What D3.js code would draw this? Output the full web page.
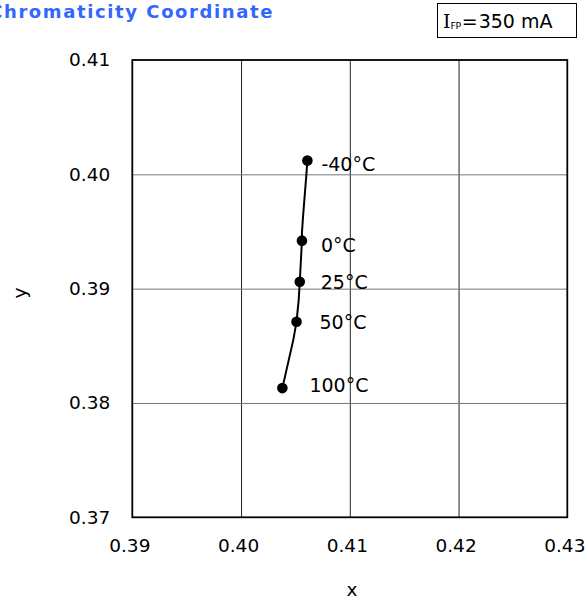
<!DOCTYPE html>
<html><head><meta charset="utf-8">
<script src="https://cdn.jsdelivr.net/npm/d3@7"></script>
<style>body{margin:0;background:#fff;} svg{display:block;}</style>
</head><body>
<svg id="chart" width="587" height="602"></svg>
<script>
// ---- data ----
const tempLabels = ["-40°C", "0°C", "25°C", "50°C", "100°C"];
const pointX = [0.4061, 0.4056, 0.4054, 0.4051, 0.4038];
const pointY = [0.4012, 0.3942, 0.3906, 0.3871, 0.3813];
// traced curve between measured points
const curveX = [0.4061, 0.4060, 0.4057, 0.4056, 0.4056, 0.4055, 0.4054, 0.4053, 0.4051, 0.4048, 0.4038];
const curveY = [0.4012, 0.3999, 0.3963, 0.3949, 0.3942, 0.3924, 0.3906, 0.3890, 0.3871, 0.3855, 0.3813];
const xTicks = [0.39, 0.40, 0.41, 0.42, 0.43];
const yTicks = [0.37, 0.38, 0.39, 0.40, 0.41];
const titleText = "Chromaticity Coordinate";

// ---- layout ----
const L = 132.3, R = 567.3, T = 60, B = 517.3;
const labelDX = [14, 19, 21, 23, 27];
const labelDY = [3, 4, 0, 0, -3];
const font = "'DejaVu Sans', Verdana, sans-serif";

const svg = d3.select("#chart");
const x = d3.scaleLinear().domain([0.39, 0.43]).range([L, R]);
const y = d3.scaleLinear().domain([0.37, 0.41]).range([B, T]);

// gridlines
svg.append("g").attr("transform", `translate(0,${B})`)
  .call(d3.axisBottom(x).tickValues(xTicks.slice(1, -1)).tickSize(-(B - T)).tickFormat(""))
  .call(g => g.select(".domain").remove())
  .call(g => g.selectAll("line").attr("stroke", "#222").attr("stroke-width", 1));
svg.append("g").attr("transform", `translate(${L},0)`)
  .call(d3.axisLeft(y).tickValues(yTicks.slice(1, -1)).tickSize(-(R - L)).tickFormat(""))
  .call(g => g.select(".domain").remove())
  .call(g => g.selectAll("line").attr("stroke", "#777").attr("stroke-width", 1));

// frame
svg.append("rect").attr("x", L).attr("y", T).attr("width", R - L).attr("height", B - T)
  .attr("fill", "none").attr("stroke", "#000").attr("stroke-width", 1.8);

// tick labels
svg.append("g").attr("transform", `translate(0,${B})`)
  .call(d3.axisBottom(x).tickValues(xTicks).tickSize(0).tickPadding(22).tickFormat(d3.format(".2f")))
  .call(g => g.select(".domain").remove())
  .call(g => g.selectAll("text").attr("font-family", font).attr("font-size", 18.5).attr("fill", "#000").attr("dx", -3));
svg.append("g").attr("transform", `translate(${L},0)`)
  .call(d3.axisLeft(y).tickValues(yTicks).tickSize(0).tickPadding(22).tickFormat(d3.format(".2f")))
  .call(g => g.select(".domain").remove())
  .call(g => g.selectAll("text").attr("font-family", font).attr("font-size", 18.5).attr("fill", "#000"));

// axis titles
svg.append("text").attr("x", 352).attr("y", 596).attr("text-anchor", "middle")
  .attr("font-family", font).attr("font-size", 18.5).text("x");
svg.append("text").attr("transform", "translate(26,293) rotate(-90)").attr("text-anchor", "middle")
  .attr("font-family", font).attr("font-size", 18.5).text("y");

// curve
const curve = curveX.map((v, i) => [v, curveY[i]]);
svg.append("path").datum(curve)
  .attr("d", d3.line().x(d => x(d[0])).y(d => y(d[1])))
  .attr("fill", "none").attr("stroke", "#000").attr("stroke-width", 2);

// markers
const pts = pointX.map((v, i) => ({x: v, y: pointY[i], label: tempLabels[i], i}));
svg.append("g").selectAll("circle").data(pts).join("circle")
  .attr("cx", d => x(d.x)).attr("cy", d => y(d.y)).attr("r", 5.3).attr("fill", "#000");
svg.append("g").selectAll("text").data(pts).join("text")
  .attr("x", d => x(d.x) + labelDX[d.i]).attr("y", d => y(d.y) + labelDY[d.i])
  .attr("dominant-baseline", "central")
  .attr("font-family", font).attr("font-size", 19).text(d => d.label);

// title
const title = svg.append("text").attr("y", 18)
  .attr("font-family", font).attr("font-size", 18).attr("font-weight", "bold")
  .attr("letter-spacing", "1.6px").attr("fill", "#3366ff").text(titleText);
const tl = title.node().getComputedTextLength();
title.attr("x", 274 - tl);

// condition box
svg.append("rect").attr("x", 437.5).attr("y", 3.5).attr("width", 139).attr("height", 34)
  .attr("fill", "#fff").attr("stroke", "#000").attr("stroke-width", 1);
const cond = svg.append("text").attr("x", 443).attr("y", 28)
  .attr("font-family", font).attr("font-size", 19);
cond.append("tspan").attr("font-family", "'DejaVu Serif', serif").text("I");
cond.append("tspan").attr("font-size", 9.5).attr("dy", 1).attr("letter-spacing", "-0.5px").text("FP");
cond.append("tspan").attr("dy", -1).attr("dx", 1).text("=");
cond.append("tspan").attr("dx", 1).text("350 mA");
</script>
</body></html>
